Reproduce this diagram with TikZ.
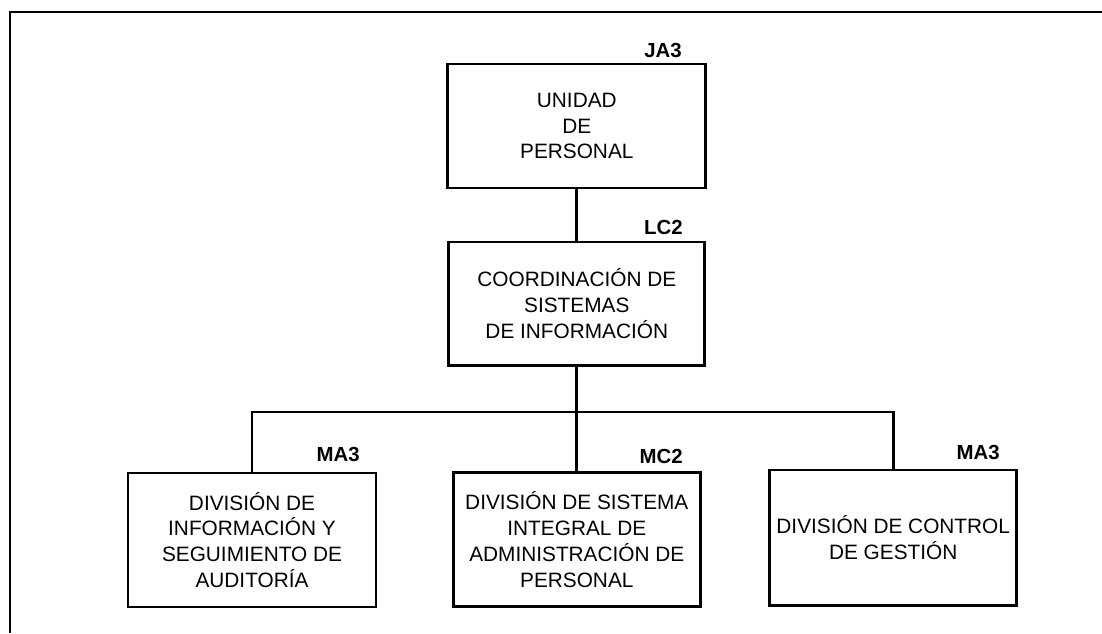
\documentclass[tikz,border=0pt]{standalone}
\usepackage{fontspec}
\setmainfont{Liberation Sans}
\usepackage{tikz}
\usetikzlibrary{positioning,calc}

\begin{document}
\begin{tikzpicture}[
    caja/.style={rectangle, draw=black, line width=2.1pt, align=center, inner sep=0pt,
      minimum width=6.2cm, minimum height=3.35cm, font=\fontsize{14.8}{18.4}\selectfont},
    grado/.style={anchor=base east, inner sep=0pt, font=\fontsize{14.5}{17}\selectfont\bfseries},
    enlace/.style={draw=black, line width=2.1pt}
  ]
    \useasboundingbox (0,0) rectangle (27.55,-15.825);

    % Frame
    \draw[line width=1.5pt] (0.25,-15.825) -- (0.25,-0.3) -- (27.55,-0.3);

    % Top: Unidad de Personal
    \node[caja, minimum width=6.45cm, minimum height=3.1cm] (unidad) at (14.42,-3.15) {UNIDAD\\DE\\PERSONAL};
    \node[grado] (tagJA) at (17.05,-1.45) {JA3};

    % Coordinacion
    \node[caja, minimum width=6.4cm, minimum height=3.08cm] (coord) at (14.42,-7.59) {COORDINACIÓN DE\\SISTEMAS\\DE INFORMACIÓN};
    \node[grado] (tagLC) at (17.075,-5.85) {LC2};
    \draw[enlace] (unidad) -- (coord);

    % Divisions
    \node[caja] (divinfo) at (6.3,-13.5) {DIVISIÓN DE\\INFORMACIÓN Y\\SEGUIMIENTO DE\\AUDITORÍA};
    \node[grado] (tagMAa) at (9.0,-11.53) {MA3};

    \node[caja, minimum width=6.18cm] (divsis) at (14.42,-13.49) {DIVISIÓN DE SISTEMA\\INTEGRAL DE\\ADMINISTRACIÓN DE\\PERSONAL};
    \node[grado] (tagMC) at (17.075,-11.58) {MC2};

    \node[caja, minimum width=6.18cm, minimum height=3.38cm] (divctrl) at (22.33,-13.44) {DIVISIÓN DE CONTROL\\DE GESTIÓN};
    \node[grado] (tagMAb) at (25.0,-11.48) {MA3};

    % Bus
    \coordinate (bus) at (14.42,-10.3);
    \draw[enlace] (coord) -- (divsis);
    \draw[enlace] (divinfo.north) |- (bus) -| (divctrl.north);
  \end{tikzpicture}
\end{document}
